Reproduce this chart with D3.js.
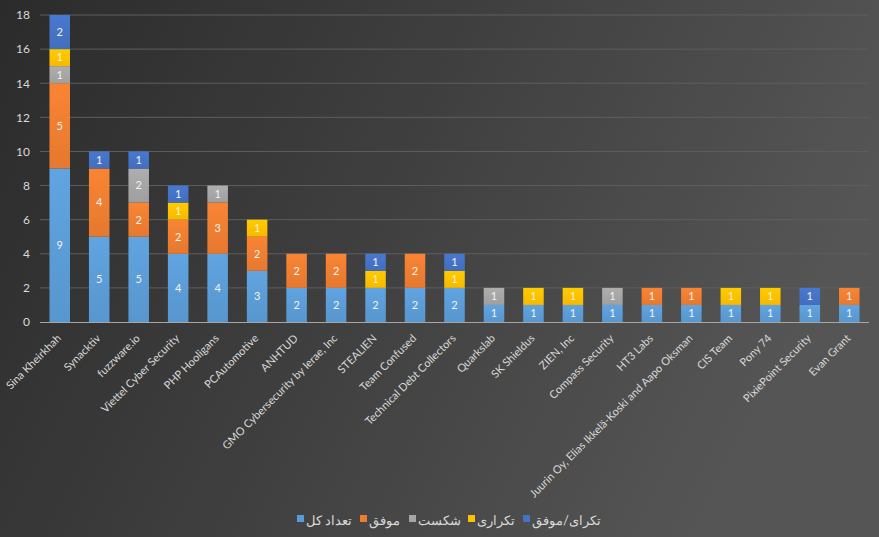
<!DOCTYPE html>
<html><head><meta charset="utf-8">
<script src="https://cdn.jsdelivr.net/npm/d3@7"></script>
<style>html,body{margin:0;padding:0;background:#333;}svg{display:block;}</style>
</head><body>
<svg id="chart" width="879" height="537"></svg>
<script>
const categories = ["Sina Kheirkhah","Synacktiv","fuzzware.io","Viettel Cyber Security","PHP Hooligans","PCAutomotive","ANHTUD","GMO Cybersecurity by Ierae, Inc","STEALIEN","Team Confused","Technical Debt Collectors","Quarkslab","SK Shieldus","ZIEN, Inc","Compass Security","HT3 Labs","Juurin Oy, Elias Ikkelä-Koski and Aapo Oksman","CIS Team","Pony 74","PixiePoint Security","Evan Grant"];
const seriesNames = ["تعداد کل","موفق","شکست","تکراری","تکرای/موفق"];
const total     = [9,5,5,4,4,3,2,2,2,2,2,1,1,1,1,1,1,1,1,1,1];
const success   = [5,4,2,2,3,2,2,2,0,2,0,0,0,0,0,1,1,0,0,0,1];
const failure   = [1,0,2,0,1,0,0,0,0,0,0,1,0,0,1,0,0,0,0,0,0];
const duplicate = [1,0,0,1,0,1,0,0,1,0,1,0,1,1,0,0,0,1,1,0,0];
const dupSuccess= [2,1,1,1,0,0,0,0,1,0,1,0,0,0,0,0,0,0,0,1,0];
const yTicks = [0,2,4,6,8,10,12,14,16,18];
const colors = ["#5b9bd5","#ed7d31","#a5a5a5","#ffc000","#4472c4"];

const seriesData = [total, success, failure, duplicate, dupSuccess];
const rows = categories.map((c,i)=>{const o={cat:c}; seriesNames.forEach((s,j)=>o[s]=seriesData[j][i]); return o;});
const stacked = d3.stack().keys(seriesNames)(rows);

const svg = d3.select("#chart");
const W=879,H=537;
const defs = svg.append("defs");
const bg = defs.append("linearGradient").attr("id","bg").attr("x1","0").attr("y1","0").attr("x2","1").attr("y2","0.3");
bg.append("stop").attr("offset","0").attr("stop-color","#2b2b2b");
bg.append("stop").attr("offset","0.5").attr("stop-color","#3f3f3f");
bg.append("stop").attr("offset","1").attr("stop-color","#555555");
svg.append("rect").attr("width",W).attr("height",H).attr("fill","url(#bg)");
colors.forEach((c,i)=>{
  const g = defs.append("linearGradient").attr("id","g"+i).attr("x1","0").attr("y1","0").attr("x2","0").attr("y2","1");
  g.append("stop").attr("offset","0").attr("stop-color",d3.color(c).brighter(0.15));
  g.append("stop").attr("offset","1").attr("stop-color",d3.color(c).darker(0.1));
});

const m={left:40,right:10,top:15,bottom:215};
const x = d3.scaleBand().domain(categories).range([m.left,W-m.right]).paddingInner(0.48).paddingOuter(0.24);
const y = d3.scaleLinear().domain([0,18]).range([322,15]);

const font = "Lato, 'Open Sans', sans-serif";
// grid
svg.append("g").selectAll("line").data(yTicks.filter(t=>t>0)).join("line")
  .attr("x1",m.left).attr("x2",W-m.right).attr("y1",d=>y(d)).attr("y2",d=>y(d))
  .attr("stroke","#5e5e5e").attr("stroke-width",1);

// y axis labels
const yAxis = d3.axisLeft(y).tickValues(yTicks).tickSize(0).tickPadding(10);
const yg = svg.append("g").attr("transform",`translate(${m.left},0)`).call(yAxis);
yg.select(".domain").remove();
yg.selectAll("text").attr("fill","#d9d9d9").style("font-family",font).style("font-size","12px");

// bars
const layers = svg.append("g").selectAll("g").data(stacked).join("g").attr("fill",(d,i)=>`url(#g${i})`);
layers.selectAll("rect").data(d=>d.filter(p=>p[1]-p[0]>0)).join("rect")
  .attr("x",d=>x(d.data.cat)).attr("width",x.bandwidth())
  .attr("y",d=>y(d[1])).attr("height",d=>y(d[0])-y(d[1]));
// labels
const lab = svg.append("g");
stacked.forEach((s,i)=>{
  lab.selectAll(null).data(s.filter(p=>p[1]-p[0]>0)).join("text")
    .attr("x",d=>x(d.data.cat)+x.bandwidth()/2).attr("y",d=>(y(d[0])+y(d[1]))/2)
    .attr("dy","0.35em").attr("text-anchor","middle")
    .attr("fill", i===3 ? "#fff2cc" : "#f2f2f2")
    .style("font-family",font).style("font-size","11px")
    .text(d=>d[1]-d[0]);
});

// x axis
const xg = svg.append("g").attr("transform","translate(0,322)").call(d3.axisBottom(x).tickSize(0).tickPadding(0));
xg.select(".domain").attr("stroke","#a6a6a6").attr("d",`M${m.left},0.5H${W-m.right}`);
xg.selectAll("text").attr("fill","#d9d9d9").style("font-family",font).style("font-size","11px")
  .attr("text-anchor","end").attr("dy","0").attr("y",0)
  .attr("transform","translate(2,17) rotate(-45)");

// legend
const markerX = [297, 360, 409, 468, 523];
const lg = svg.append("g").style("font-family",font).style("font-size","13px");
seriesNames.forEach((name,i)=>{
  const gx = markerX[i];
  lg.append("rect").attr("x",gx).attr("y",515).attr("width",7).attr("height",7).attr("fill",colors[i]);
  lg.append("text").attr("x",gx+9).attr("y",525).attr("fill","#d9d9d9")
    .attr("text-anchor","start").text(name);
});
</script>
</body></html>
